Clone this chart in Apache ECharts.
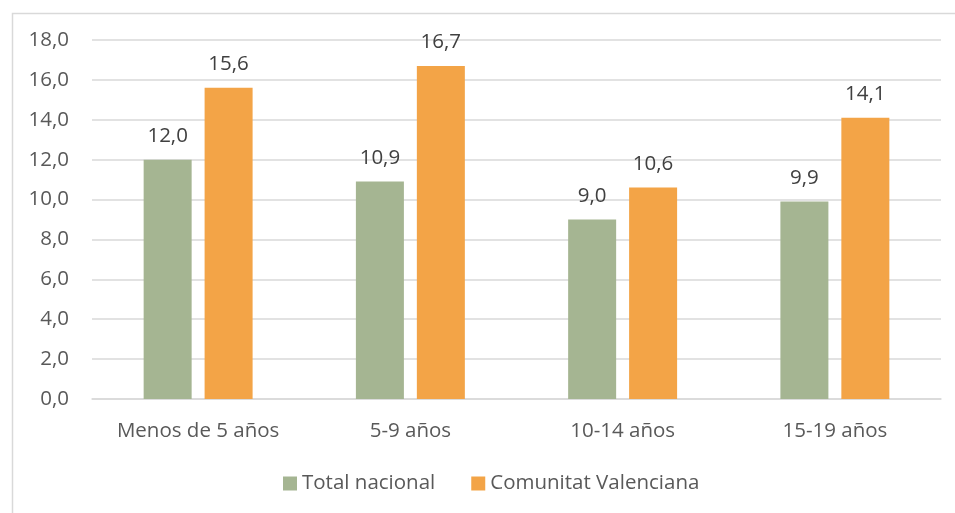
<!DOCTYPE html>
<html>
<head>
<meta charset="utf-8">
<script src="https://cdn.jsdelivr.net/npm/echarts@6/dist/echarts.min.js"></script>
<style>
  html, body { margin: 0; padding: 0; background: #fff; }
  #chart { width: 955px; height: 513px; }
</style>
</head>
<body>
<div id="chart"></div>
<script>
// Tasa por grupo de edad
const categories = ['Menos de 5 años', '5-9 años', '10-14 años', '15-19 años'];
const totalNacional = [12.0, 10.9, 9.0, 9.9];
const comunitatValenciana = [15.6, 16.7, 10.6, 14.1];
const seriesNames = ['Total nacional', 'Comunitat Valenciana'];

const FONT = 'Open Sans';
const FS = 20.5;
const fmt = v => v.toFixed(1).replace('.', ',');

const chart = echarts.init(document.getElementById('chart'), null, { renderer: 'canvas' });

const labelStyle = {
  show: true,
  position: 'top',
  distance: 13,
  color: '#404040',
  fontFamily: FONT,
  fontSize: FS,
  formatter: p => fmt(p.value)
};

chart.setOption({
  animation: false,
  backgroundColor: '#ffffff',
  graphic: [{
    type: 'rect',
    left: 10, top: 11,
    shape: { width: 960, height: 520 },
    style: { fill: 'none', stroke: '#d9d9d9', lineWidth: 1.5 },
    silent: true
  }],
  grid: { left: 92, right: 14, top: 40, bottom: 114, containLabel: false },
  legend: {
    bottom: 14,
    left: 278,
    itemWidth: 14,
    itemHeight: 14,
    itemGap: 36,
    icon: 'rect',
    textStyle: { color: '#595959', fontFamily: FONT, fontSize: FS },
    data: seriesNames
  },
  xAxis: {
    type: 'category',
    data: categories,
    axisTick: { show: false },
    axisLine: { lineStyle: { color: '#d9d9d9', width: 1.5 } },
    axisLabel: { color: '#595959', fontFamily: FONT, fontSize: FS, margin: 22 }
  },
  yAxis: {
    type: 'value',
    min: 0, max: 18, interval: 2,
    axisLine: { show: false },
    axisTick: { show: false },
    splitLine: { lineStyle: { color: '#d9d9d9', width: 1.5 } },
    axisLabel: { color: '#595959', fontFamily: FONT, fontSize: FS, margin: 23, formatter: v => fmt(v) }
  },
  series: [
    {
      name: seriesNames[0], type: 'bar', data: totalNacional,
      barWidth: 48, barGap: '27%',
      itemStyle: { color: '#a5b592' },
      label: labelStyle
    },
    {
      name: seriesNames[1], type: 'bar', data: comunitatValenciana,
      barWidth: 48, barGap: '27%',
      itemStyle: { color: '#f3a447' },
      label: labelStyle
    }
  ]
});
</script>
</body>
</html>
